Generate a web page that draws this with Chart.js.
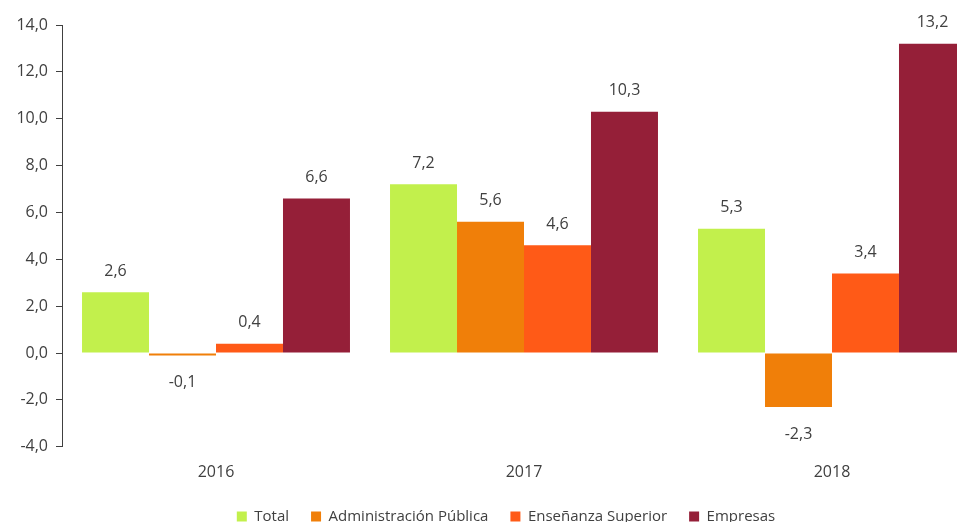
<!DOCTYPE html>
<html><head><meta charset="utf-8">
<script src="https://cdn.jsdelivr.net/npm/chart.js@4.4.0/dist/chart.umd.min.js"></script>
<style>
html,body{margin:0;padding:0;overflow:hidden;background:#fff;width:957px;height:522px;}
#wrap{width:990px;height:534px;position:relative;}
</style></head>
<body>
<div id="wrap"><canvas id="c"></canvas></div>
<script>
const categories = ['2016', '2017', '2018'];
const seriesNames = ['Total', 'Administración Pública', 'Enseñanza Superior', 'Empresas'];
const total = [2.6, 7.2, 5.3];
const administracion = [-0.1, 5.6, -2.3];
const ensenanza = [0.4, 4.6, 3.4];
const empresas = [6.6, 10.3, 13.2];
const colors = ['#c2f04c', '#f07f09', '#ff5a17', '#951f38'];
const yTicks = [-4, -2, 0, 2, 4, 6, 8, 10, 12, 14];

const fmt = v => v.toFixed(1).replace('.', ',');
const FONT = "'Open Sans', 'Liberation Sans', sans-serif";

const labelPlugin = {
  id: 'valueLabels',
  afterLayout(chart) {
    if (chart.legend) { chart.legend.left += 13; chart.legend.right += 13; }
  },
  afterDatasetsDraw(chart) {
    const ctx = chart.ctx;
    ctx.save();
    ctx.font = '16px ' + FONT;
    ctx.fillStyle = '#404040';
    ctx.textAlign = 'center';
    ctx.textBaseline = 'middle';
    chart.data.datasets.forEach((ds, i) => {
      const meta = chart.getDatasetMeta(i);
      meta.data.forEach((bar, j) => {
        const v = ds.data[j];
        const y = v >= 0 ? bar.y - 21 : bar.y + 27;
        ctx.fillText(fmt(v), bar.x, y);
      });
    });
    ctx.restore();
  }
};

new Chart(document.getElementById('c'), {
  type: 'bar',
  data: {
    labels: categories,
    datasets: [
      {label: seriesNames[0], data: total, backgroundColor: colors[0]},
      {label: seriesNames[1], data: administracion, backgroundColor: colors[1]},
      {label: seriesNames[2], data: ensenanza, backgroundColor: colors[2]},
      {label: seriesNames[3], data: empresas, backgroundColor: colors[3]}
    ]
  },
  options: {
    responsive: true,
    maintainAspectRatio: false,
    animation: false,
    layout: {padding: {top: 25, left: 0, right: 4, bottom: 0}},
    datasets: {bar: {categoryPercentage: 0.87, barPercentage: 1.0}},
    plugins: {
      legend: {
        position: 'bottom',
        labels: {
          font: {family: FONT, size: 15},
          color: '#404040',
          boxWidth: 10, boxHeight: 10,
          padding: 22
        }
      },
      tooltip: {enabled: false}
    },
    scales: {
      x: {
        grid: {display: false},
        border: {display: false},
        afterFit: s => { s.height = s.height - 3; },
        ticks: {font: {family: FONT, size: 16}, color: '#404040', padding: 8}
      },
      y: {
        min: -4, max: 14,
        afterBuildTicks: s => { s.ticks = yTicks.map(v => ({value: v})); },
        afterFit: s => { s.width = 62; },
        grid: {drawOnChartArea: false, drawTicks: true, tickLength: 6, color: '#404040'},
        border: {display: true, color: '#404040'},
        ticks: {font: {family: FONT, size: 16}, color: '#404040', padding: 8, callback: v => fmt(v)}
      }
    }
  },
  plugins: [labelPlugin]
});
</script>
</body></html>
